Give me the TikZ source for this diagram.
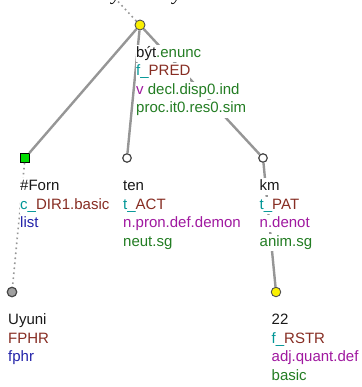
\documentclass[tikz,border=0pt]{standalone}
\usepackage{fontspec}
\setmainfont{Liberation Sans}
\newfontfamily\sentfont{Liberation Serif}
\definecolor{cteal}{RGB}{0,150,150}
\definecolor{cbrown}{RGB}{135,45,35}
\definecolor{cgreen}{RGB}{35,125,35}
\definecolor{cpurple}{RGB}{160,25,160}
\definecolor{cblue}{RGB}{35,35,170}
\definecolor{cedge}{RGB}{150,150,150}
\definecolor{cyel}{RGB}{250,240,0}
\definecolor{cgrn}{RGB}{0,220,0}
\begin{document}
\begin{tikzpicture}[x=1pt,y=-1pt,
  ynode/.style={circle,draw={rgb,255:red,80;green,80;blue,80},line width=0.9pt,fill=cyel,minimum size=10pt,inner sep=0pt},
  wnode/.style={circle,draw={rgb,255:red,70;green,70;blue,70},line width=1.2pt,fill=white,minimum size=8.5pt,inner sep=0pt},
  gnode/.style={circle,draw={rgb,255:red,70;green,70;blue,70},line width=1.2pt,fill={rgb,255:red,160;green,160;blue,160},minimum size=9.5pt,inner sep=0pt},
  sqnode/.style={rectangle,draw=black,line width=0.8pt,fill=cgrn,minimum size=9pt,inner sep=0pt},
  edge/.style={draw=cedge,line width=2.4pt},
  dotedge/.style={draw=cedge,line width=1.6pt,dash pattern=on 1.6pt off 3.4pt},
  row/.style={anchor=base west,inner sep=0pt,fill=white,text height=12.5pt,text depth=4.8pt,font=\fontsize{15}{18.5}\selectfont,text={rgb,255:red,25;green,25;blue,25}},
  frag/.style={anchor=base,inner sep=0pt,font=\sentfont\itshape\fontsize{19}{22}\selectfont}
]
\useasboundingbox (0,0) rectangle (361,387);
% sentence fragments cut at the top
\node[frag] (s1) at (116,0.5) {y};
\node[frag] (s2) at (177,0.5) {y};
% tree nodes
\node[ynode] (root) at (140,25) {};
\node[sqnode] (forn) at (25,158) {};
\node[wnode] (ten) at (127,158) {};
\node[wnode] (km) at (263,158) {};
\node[gnode] (uyuni) at (12,292) {};
\node[ynode,minimum size=9.5pt] (n22) at (276,292) {};
\coordinate (up) at (98,-20);
% connectors
\draw[dotedge] (root) -- (up);
\draw[edge] (root) -- (forn);
\draw[edge] (root) -- (ten);
\draw[edge] (root) -- (km);
\draw[edge] (km) -- (n22);
\draw[dotedge] (forn) -- (uyuni);
% labels
\node[row] (r1) at (136,57.5) {být\textcolor{cgreen}{.enunc}};
\node[row] (r2) at (136,76) {\textcolor{cteal}{f\_}\textcolor{cbrown}{PRED}};
\node[row] (r3) at (136,94.5) {\textcolor{cpurple}{v} \textcolor{cgreen}{decl.disp0.ind}};
\node[row] (r4) at (136,113) {\textcolor{cgreen}{proc.it0.res0.sim}};
\node[row] (f1) at (20,190.5) {\#Forn};
\node[row] (f2) at (20,209) {\textcolor{cteal}{c\_}\textcolor{cbrown}{DIR1.basic}};
\node[row] (f3) at (20,227.5) {\textcolor{cblue}{list}};
\node[row] (t1) at (123,190.5) {ten};
\node[row] (t2) at (123,209) {\textcolor{cteal}{t\_}\textcolor{cbrown}{ACT}};
\node[row] (t3) at (123,227.5) {\textcolor{cpurple}{n.pron.def.demon}};
\node[row] (t4) at (123,246) {\textcolor{cgreen}{neut.sg}};
\node[row] (k1) at (259.5,190.5) {km};
\node[row] (k2) at (259.5,209) {\textcolor{cteal}{t\_}\textcolor{cbrown}{PAT}};
\node[row] (k3) at (259.5,227.5) {\textcolor{cpurple}{n.denot}};
\node[row] (k4) at (259.5,246) {\textcolor{cgreen}{anim.sg}};
\node[row] (u1) at (8,324.5) {Uyuni};
\node[row] (u2) at (8,343) {\textcolor{cbrown}{FPHR}};
\node[row] (u3) at (8,361.5) {\textcolor{cblue}{fphr}};
\node[row] (z1) at (271.5,324.5) {22};
\node[row] (z2) at (271.5,343) {\textcolor{cteal}{f\_}\textcolor{cbrown}{RSTR}};
\node[row] (z3) at (271.5,361.5) {\textcolor{cpurple}{adj.quant.def}};
\node[row] (z4) at (271.5,380) {\textcolor{cgreen}{basic}};
\end{tikzpicture}
\end{document}
